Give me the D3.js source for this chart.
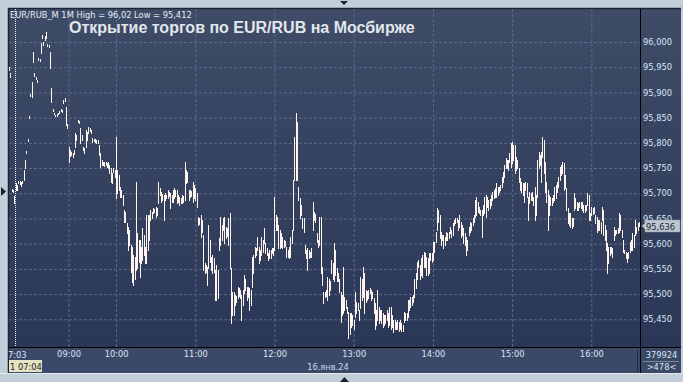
<!DOCTYPE html>
<html>
<head>
<meta charset="utf-8">
<script src="https://cdn.jsdelivr.net/npm/d3@7"></script>
<style>
  html, body { margin: 0; padding: 0; background: #c3cedb; overflow: hidden; }
  svg { display: block; font-family: "DejaVu Sans", Verdana, sans-serif; }
</style>
</head>
<body>
<div id="chart"></div>
<script>
// chart values (1 minute bars, 16 Jan 2024)
const symbol = "EUR/RUB_M";
const interval = "1M";
const chartTitle = "Открытие торгов по EUR/RUB на Мосбирже";
const sessionDate = "16.янв.24";
const firstBarLabel = "7:03";
const cursorLabel = "1 07:04";
const volumeLabel = "379924";
const lastPrice = 95.636;
const sessionStartIndex = 4;

const priceTicks = [95.45, 95.5, 95.55, 95.6, 95.65, 95.7, 95.75, 95.8, 95.85, 95.9, 95.95, 96.0];
const timeTickIndex = [45, 81, 141, 201, 261, 321, 381, 441];
const timeTickLabels = ["09:00", "10:00", "11:00", "12:00", "13:00", "14:00", "15:00", "16:00"];

const highs = [
  95.950, 95.938, 95.709, 95.707, 95.695, 95.721, 95.717, 95.725, 95.725, 95.723,
  95.725, 95.746, 95.766, 95.784, 95.808, 95.853, 95.897, 95.921, 95.980, 95.938,
  95.930, 95.925, 95.968, 95.966, 95.998, 96.014, 96.000, 96.012, 96.020, 95.996,
  95.994, 95.980, 95.909, 95.867, 95.859, 95.855, 95.857, 95.859, 95.863, 95.867,
  95.865, 95.885, 95.889, 95.871, 95.837, 95.792, 95.786, 95.782, 95.780, 95.786,
  95.820, 95.816, 95.845, 95.843, 95.829, 95.816, 95.792, 95.790, 95.826, 95.822,
  95.831, 95.829, 95.826, 95.810, 95.808, 95.808, 95.806, 95.806, 95.796, 95.780,
  95.766, 95.762, 95.762, 95.762, 95.760, 95.762, 95.756, 95.750, 95.740, 95.750,
  95.746, 95.812, 95.746, 95.736, 95.713, 95.707, 95.697, 95.667, 95.663, 95.641,
  95.633, 95.628, 95.598, 95.594, 95.578, 95.574, 95.723, 95.622, 95.608, 95.608,
  95.594, 95.632, 95.618, 95.594, 95.657, 95.657, 95.657, 95.667, 95.663, 95.671,
  95.669, 95.673, 95.671, 95.723, 95.711, 95.703, 95.699, 95.697, 95.701, 95.697,
  95.707, 95.703, 95.701, 95.697, 95.707, 95.711, 95.707, 95.707, 95.697, 95.693,
  95.691, 95.697, 95.695, 95.762, 95.746, 95.742, 95.707, 95.707, 95.705, 95.723,
  95.717, 95.711, 95.701, 95.653, 95.651, 95.657, 95.647, 95.618, 95.562, 95.558,
  95.554, 95.637, 95.608, 95.574, 95.578, 95.572, 95.548, 95.558, 95.548, 95.612,
  95.653, 95.637, 95.651, 95.653, 95.633, 95.632, 95.651, 95.661, 95.552, 95.505,
  95.505, 95.499, 95.497, 95.515, 95.513, 95.509, 95.499, 95.509, 95.538, 95.529,
  95.515, 95.515, 95.513, 95.509, 95.574, 95.578, 95.594, 95.592, 95.614, 95.594,
  95.588, 95.614, 95.608, 95.632, 95.602, 95.592, 95.582, 95.588, 95.588, 95.592,
  95.592, 95.693, 95.657, 95.653, 95.637, 95.628, 95.622, 95.614, 95.608, 95.606,
  95.594, 95.588, 95.594, 95.614, 95.628, 95.727, 95.812, 95.859, 95.841, 95.713,
  95.691, 95.677, 95.651, 95.651, 95.598, 95.588, 95.592, 95.588, 95.584, 95.592,
  95.683, 95.663, 95.659, 95.622, 95.608, 95.653, 95.653, 95.554, 95.505, 95.505,
  95.509, 95.534, 95.529, 95.525, 95.568, 95.562, 95.602, 95.588, 95.552, 95.542,
  95.529, 95.505, 95.499, 95.554, 95.495, 95.489, 95.475, 95.465, 95.463, 95.463,
  95.459, 95.449, 95.505, 95.485, 95.483, 95.469, 95.534, 95.529, 95.554, 95.542,
  95.509, 95.507, 95.509, 95.513, 95.509, 95.505, 95.493, 95.483, 95.469, 95.509,
  95.475, 95.469, 95.469, 95.463, 95.459, 95.459, 95.469, 95.463, 95.475, 95.475,
  95.459, 95.449, 95.449, 95.445, 95.449, 95.445, 95.449, 95.443, 95.439, 95.465,
  95.463, 95.463, 95.489, 95.489, 95.495, 95.495, 95.499, 95.529, 95.542, 95.564,
  95.568, 95.558, 95.572, 95.578, 95.584, 95.582, 95.574, 95.572, 95.582, 95.582,
  95.582, 95.604, 95.604, 95.624, 95.671, 95.667, 95.657, 95.624, 95.618, 95.618,
  95.614, 95.624, 95.622, 95.624, 95.633, 95.628, 95.641, 95.647, 95.651, 95.651,
  95.647, 95.657, 95.643, 95.637, 95.632, 95.622, 95.614, 95.608, 95.633, 95.643,
  95.641, 95.651, 95.657, 95.687, 95.693, 95.683, 95.673, 95.667, 95.667, 95.677,
  95.693, 95.697, 95.693, 95.687, 95.689, 95.697, 95.703, 95.707, 95.711, 95.721,
  95.713, 95.713, 95.717, 95.733, 95.742, 95.756, 95.770, 95.766, 95.766, 95.780,
  95.800, 95.802, 95.796, 95.796, 95.772, 95.766, 95.750, 95.730, 95.723, 95.721,
  95.721, 95.723, 95.721, 95.693, 95.703, 95.701, 95.703, 95.693, 95.713, 95.697,
  95.766, 95.782, 95.776, 95.782, 95.812, 95.806, 95.762, 95.723, 95.707, 95.697,
  95.693, 95.691, 95.697, 95.713, 95.717, 95.723, 95.733, 95.752, 95.756, 95.762,
  95.760, 95.736, 95.711, 95.671, 95.661, 95.661, 95.651, 95.651, 95.701, 95.691,
  95.683, 95.681, 95.683, 95.683, 95.683, 95.677, 95.677, 95.677, 95.701, 95.697,
  95.661, 95.673, 95.671, 95.673, 95.657, 95.653, 95.647, 95.647, 95.643, 95.673,
  95.667, 95.637, 95.628, 95.602, 95.594, 95.594, 95.594, 95.592, 95.633, 95.628,
  95.628, 95.632, 95.661, 95.657, 95.628, 95.608, 95.588, 95.584, 95.582, 95.584,
  95.604, 95.608, 95.622, 95.618, 95.647, 95.633, 95.641, 95.643
];

const lows = [
  95.944, 95.930, 95.705, 95.703, 95.681, 95.707, 95.707, 95.721, 95.719, 95.715,
  95.721, 95.727, 95.750, 95.780, 95.804, 95.849, 95.893, 95.891, 95.960, 95.932,
  95.926, 95.921, 95.964, 95.962, 95.978, 96.008, 95.994, 96.004, 96.008, 95.992,
  95.990, 95.948, 95.881, 95.863, 95.857, 95.853, 95.853, 95.857, 95.859, 95.863,
  95.861, 95.879, 95.883, 95.835, 95.829, 95.762, 95.774, 95.776, 95.772, 95.778,
  95.792, 95.806, 95.841, 95.839, 95.800, 95.806, 95.786, 95.780, 95.792, 95.806,
  95.820, 95.824, 95.820, 95.802, 95.804, 95.802, 95.800, 95.800, 95.776, 95.752,
  95.756, 95.756, 95.754, 95.756, 95.752, 95.750, 95.740, 95.723, 95.721, 95.742,
  95.732, 95.691, 95.701, 95.707, 95.693, 95.693, 95.677, 95.643, 95.643, 95.622,
  95.588, 95.598, 95.544, 95.523, 95.519, 95.529, 95.548, 95.552, 95.564, 95.534,
  95.562, 95.568, 95.578, 95.562, 95.562, 95.588, 95.608, 95.647, 95.651, 95.661,
  95.663, 95.653, 95.657, 95.681, 95.697, 95.683, 95.687, 95.647, 95.687, 95.691,
  95.691, 95.695, 95.671, 95.683, 95.683, 95.691, 95.695, 95.681, 95.683, 95.677,
  95.681, 95.681, 95.683, 95.687, 95.721, 95.723, 95.687, 95.693, 95.695, 95.683,
  95.691, 95.687, 95.673, 95.637, 95.639, 95.614, 95.624, 95.548, 95.542, 95.544,
  95.519, 95.552, 95.564, 95.548, 95.542, 95.544, 95.489, 95.489, 95.493, 95.588,
  95.598, 95.608, 95.628, 95.602, 95.612, 95.616, 95.598, 95.552, 95.443, 95.459,
  95.459, 95.479, 95.485, 95.493, 95.497, 95.493, 95.449, 95.479, 95.503, 95.509,
  95.489, 95.495, 95.469, 95.479, 95.515, 95.542, 95.574, 95.578, 95.588, 95.562,
  95.568, 95.578, 95.584, 95.602, 95.582, 95.578, 95.568, 95.572, 95.572, 95.582,
  95.578, 95.588, 95.628, 95.628, 95.592, 95.592, 95.594, 95.592, 95.594, 95.596,
  95.574, 95.574, 95.572, 95.574, 95.602, 95.628, 95.727, 95.727, 95.727, 95.687,
  95.651, 95.657, 95.632, 95.624, 95.582, 95.572, 95.548, 95.572, 95.574, 95.574,
  95.628, 95.647, 95.643, 95.604, 95.594, 95.598, 95.542, 95.519, 95.483, 95.495,
  95.497, 95.489, 95.499, 95.509, 95.542, 95.529, 95.525, 95.538, 95.525, 95.525,
  95.505, 95.445, 95.459, 95.463, 95.469, 95.473, 95.463, 95.412, 95.420, 95.435,
  95.439, 95.430, 95.455, 95.463, 95.469, 95.449, 95.473, 95.489, 95.495, 95.463,
  95.485, 95.489, 95.493, 95.503, 95.489, 95.493, 95.463, 95.430, 95.439, 95.449,
  95.443, 95.449, 95.443, 95.435, 95.439, 95.443, 95.449, 95.435, 95.439, 95.430,
  95.434, 95.424, 95.430, 95.430, 95.430, 95.426, 95.430, 95.426, 95.426, 95.445,
  95.449, 95.449, 95.455, 95.469, 95.475, 95.479, 95.485, 95.495, 95.513, 95.529,
  95.554, 95.529, 95.538, 95.534, 95.554, 95.554, 95.538, 95.538, 95.542, 95.568,
  95.564, 95.568, 95.584, 95.604, 95.628, 95.643, 95.612, 95.598, 95.608, 95.592,
  95.598, 95.608, 95.608, 95.612, 95.622, 95.614, 95.618, 95.637, 95.641, 95.643,
  95.628, 95.633, 95.614, 95.618, 95.602, 95.598, 95.578, 95.588, 95.618, 95.624,
  95.628, 95.637, 95.643, 95.653, 95.657, 95.663, 95.661, 95.657, 95.614, 95.657,
  95.661, 95.653, 95.673, 95.667, 95.671, 95.677, 95.687, 95.691, 95.693, 95.693,
  95.697, 95.703, 95.707, 95.713, 95.723, 95.733, 95.750, 95.750, 95.746, 95.762,
  95.752, 95.760, 95.766, 95.740, 95.746, 95.750, 95.723, 95.707, 95.703, 95.697,
  95.683, 95.707, 95.693, 95.647, 95.681, 95.687, 95.687, 95.677, 95.647, 95.657,
  95.693, 95.750, 95.756, 95.723, 95.772, 95.740, 95.703, 95.683, 95.628, 95.657,
  95.677, 95.677, 95.683, 95.687, 95.691, 95.703, 95.713, 95.727, 95.736, 95.740,
  95.707, 95.711, 95.667, 95.641, 95.637, 95.633, 95.632, 95.635, 95.667, 95.671,
  95.667, 95.667, 95.673, 95.671, 95.667, 95.663, 95.663, 95.667, 95.677, 95.647,
  95.647, 95.657, 95.659, 95.661, 95.641, 95.624, 95.628, 95.628, 95.622, 95.647,
  95.618, 95.608, 95.588, 95.542, 95.562, 95.578, 95.582, 95.574, 95.608, 95.618,
  95.622, 95.622, 95.624, 95.628, 95.614, 95.584, 95.582, 95.572, 95.564, 95.572,
  95.584, 95.588, 95.588, 95.594, 95.618, 95.622, 95.628, 95.636
];

const commaNum = v => String(v).replace(".", ",");

class BarChart {
  constructor(_config) {
    this.config = {
      parentElement: _config.parentElement,
      containerWidth: _config.containerWidth || 683,
      containerHeight: _config.containerHeight || 382,
      plot: { left: 9, top: 9, right: 640, bottom: 347 },
      axisBottom: 373,
      rightEdge: 681,
      barColor: "#fff3ee",
      gridColor: "#5b6a89",
      labelColor: "#dae4f3",
      fontSize: 8.3
    };
    this.initVis();
  }

  initVis() {
    let vis = this;
    vis.svg = d3.select(vis.config.parentElement)
      .append("svg")
      .attr("width", vis.config.containerWidth)
      .attr("height", vis.config.containerHeight);

    vis.defineScales();
    vis.appendFrame();
    vis.appendGrid();
    vis.appendBars();
    vis.appendAxes();
    vis.appendInfo();
  }

  defineScales() {
    let vis = this;
    const p = vis.config.plot;
    vis.x = d3.scaleBand()
      .domain(d3.range(highs.length))
      .range([p.left, p.right]);
    vis.y = d3.scaleLinear()
      .domain([95.45, 96.0])
      .range([319.3, 42]);
  }

  appendFrame() {
    let vis = this;
    const p = vis.config.plot;
    const W = vis.config.containerWidth, H = vis.config.containerHeight;

    const grad = vis.svg.append("defs").append("linearGradient")
      .attr("id", "bg-gradient")
      .attr("x1", 0).attr("x2", 0).attr("y1", 0).attr("y2", 1);
    grad.append("stop").attr("offset", "0%").attr("stop-color", "#3e4c67");
    grad.append("stop").attr("offset", "100%").attr("stop-color", "#2b3757");

    vis.svg.append("rect").attr("width", W).attr("height", H).attr("fill", "#c3cedb");
    vis.svg.append("rect")
      .attr("x", p.left).attr("y", p.top)
      .attr("width", vis.config.rightEdge - p.left)
      .attr("height", p.bottom - p.top)
      .attr("fill", "url(#bg-gradient)");
    vis.svg.append("rect")
      .attr("x", p.left).attr("y", p.bottom)
      .attr("width", vis.config.rightEdge - p.left)
      .attr("height", vis.config.axisBottom - p.bottom)
      .attr("fill", "#3a4967");

    // dark border top / left
    vis.svg.append("path")
      .attr("d", `M8.5,${vis.config.axisBottom} V8.5 H${vis.config.rightEdge}`)
      .attr("fill", "none").attr("stroke", "#1d2535").attr("stroke-width", 1.5);
    vis.svg.append("line")
      .attr("x1", 0).attr("x2", W)
      .attr("y1", vis.config.axisBottom + 0.5).attr("y2", vis.config.axisBottom + 0.5)
      .attr("stroke", "#e4eaf0");

    // frame markers
    vis.svg.append("path").attr("d", "M340,1 H348 L344,5 Z").attr("fill", "#1a2232");
    vis.svg.append("path").attr("d", "M1,187 L6,191.5 L1,196 Z").attr("fill", "#1a2232");
    vis.svg.append("path").attr("d", "M340,382 H349 L344.5,377 Z").attr("fill", "#1a2232");
  }

  appendGrid() {
    let vis = this;
    const p = vis.config.plot;

    const gy = vis.svg.append("g")
      .attr("transform", `translate(${p.left},0)`)
      .call(d3.axisLeft(vis.y).tickValues(priceTicks).tickSize(-(p.right - p.left)).tickFormat(""));
    const gx = vis.svg.append("g")
      .attr("transform", `translate(0,${p.bottom})`)
      .call(d3.axisBottom(vis.x).tickValues(timeTickIndex).tickSize(-(p.bottom - p.top)).tickFormat(""));

    [gy, gx].forEach(g => {
      g.select(".domain").remove();
      g.selectAll("line")
        .attr("stroke", vis.config.gridColor)
        .attr("stroke-dasharray", "3,2");
    });

    // session start marker
    const sx = Math.round(vis.x(sessionStartIndex) + vis.x.bandwidth() / 2) + 0.5;
    vis.svg.append("line")
      .attr("x1", sx).attr("x2", sx)
      .attr("y1", p.top).attr("y2", p.bottom)
      .attr("stroke", "#eeeeee")
      .attr("stroke-dasharray", "1,1");
  }

  appendBars() {
    let vis = this;
    const bw = vis.x.bandwidth();
    const data = highs.map((h, i) => ({ i: i, high: h, low: lows[i] }));

    vis.svg.append("g")
      .attr("shape-rendering", "crispEdges")
      .selectAll("rect")
      .data(data)
      .join("rect")
      .attr("x", d => Math.floor(vis.x(d.i) + bw / 2))
      .attr("y", d => Math.round(vis.y(d.high)))
      .attr("width", 1)
      .attr("height", d => Math.max(1, Math.round(vis.y(d.low)) - Math.round(vis.y(d.high)) + 1))
      .attr("fill", vis.config.barColor);
  }

  appendAxes() {
    let vis = this;
    const p = vis.config.plot;

    // separators
    vis.svg.append("line")
      .attr("x1", p.right + 0.5).attr("x2", p.right + 0.5)
      .attr("y1", p.top).attr("y2", vis.config.axisBottom)
      .attr("stroke", "#000");
    vis.svg.append("line")
      .attr("x1", p.left).attr("x2", vis.config.rightEdge)
      .attr("y1", p.bottom + 0.5).attr("y2", p.bottom + 0.5)
      .attr("stroke", "#000");
    vis.svg.append("line")
      .attr("x1", p.right - 2.5).attr("x2", p.right - 2.5)
      .attr("y1", p.bottom + 3).attr("y2", vis.config.axisBottom)
      .attr("stroke", "#222b3c");

    const yAxis = vis.svg.append("g")
      .attr("transform", `translate(${p.right},0)`)
      .call(d3.axisRight(vis.y)
        .tickValues(priceTicks)
        .tickSize(0)
        .tickPadding(3)
        .tickFormat(d => d3.format(".3f")(d).replace(".", ",")));

    const xAxis = vis.svg.append("g")
      .attr("transform", `translate(0,${p.bottom})`)
      .call(d3.axisBottom(vis.x)
        .tickValues(timeTickIndex)
        .tickSize(0)
        .tickPadding(4)
        .tickFormat((d, k) => timeTickLabels[k]));

    [yAxis, xAxis].forEach(g => {
      g.select(".domain").remove();
      g.selectAll("text")
        .attr("fill", vis.config.labelColor)
        .attr("font-family", "DejaVu Sans")
        .attr("font-size", vis.config.fontSize);
    });

    vis.svg.append("text")
      .attr("x", p.left - 1).attr("y", 358)
      .attr("fill", vis.config.labelColor)
      .attr("font-size", vis.config.fontSize)
      .text(firstBarLabel);

    vis.svg.append("text")
      .attr("x", 328).attr("y", 369.5)
      .attr("text-anchor", "middle")
      .attr("fill", "#c9d7ee")
      .attr("font-size", vis.config.fontSize)
      .text(sessionDate);

    // cursor time box
    vis.svg.append("rect")
      .attr("x", p.left).attr("y", 360)
      .attr("width", 33).attr("height", 12)
      .attr("fill", "#e5e3c5");
    vis.svg.append("text")
      .attr("x", p.left + 1).attr("y", 370)
      .attr("fill", "#1c1c1c")
      .attr("font-size", vis.config.fontSize)
      .text(cursorLabel);

    // last price tag
    const ly = Math.round(vis.y(lastPrice));
    vis.svg.append("path")
      .attr("d", `M${p.right + 2},${ly} L${p.right + 5},${ly - 3} V${ly - 6} H${p.right + 40} V${ly + 6} H${p.right + 5} V${ly + 3} Z`)
      .attr("fill", "#bfc5ce")
      .attr("stroke", "#8d96a6")
      .attr("stroke-width", 0.5);
    vis.svg.append("text")
      .attr("x", p.right + 6).attr("y", ly + 3.5)
      .attr("fill", "#1b2840")
      .attr("font-size", vis.config.fontSize)
      .text(d3.format(".3f")(lastPrice).replace(".", ","));

    // right bottom corner
    const cx = (p.right + vis.config.rightEdge) / 2 + 1;
    vis.svg.append("text")
      .attr("x", cx).attr("y", 358)
      .attr("text-anchor", "middle")
      .attr("fill", vis.config.labelColor)
      .attr("font-size", vis.config.fontSize)
      .text(volumeLabel);
    vis.svg.append("line")
      .attr("x1", p.right + 3).attr("x2", vis.config.rightEdge - 2)
      .attr("y1", 361.5).attr("y2", 361.5)
      .attr("stroke", "#7c889c");
    vis.svg.append("text")
      .attr("x", cx).attr("y", 370)
      .attr("text-anchor", "middle")
      .attr("fill", vis.config.labelColor)
      .attr("font-size", vis.config.fontSize)
      .text(`>${highs.length}<`);
  }

  appendInfo() {
    let vis = this;
    vis.svg.append("text")
      .attr("x", 10).attr("y", 18)
      .attr("fill", "#e6ecf5")
      .attr("font-size", vis.config.fontSize)
      .text(`${symbol} ${interval} High = ${commaNum(d3.max(highs))} Low = ${commaNum(d3.min(lows))}`);

    vis.svg.append("text")
      .attr("x", 69).attr("y", 33)
      .attr("fill", "#e2e6ec")
      .attr("font-family", "Liberation Sans, Arial, sans-serif")
      .attr("font-weight", "bold")
      .attr("font-size", 16)
      .text(chartTitle);
  }
}

new BarChart({ parentElement: "#chart" });
</script>
</body>
</html>
